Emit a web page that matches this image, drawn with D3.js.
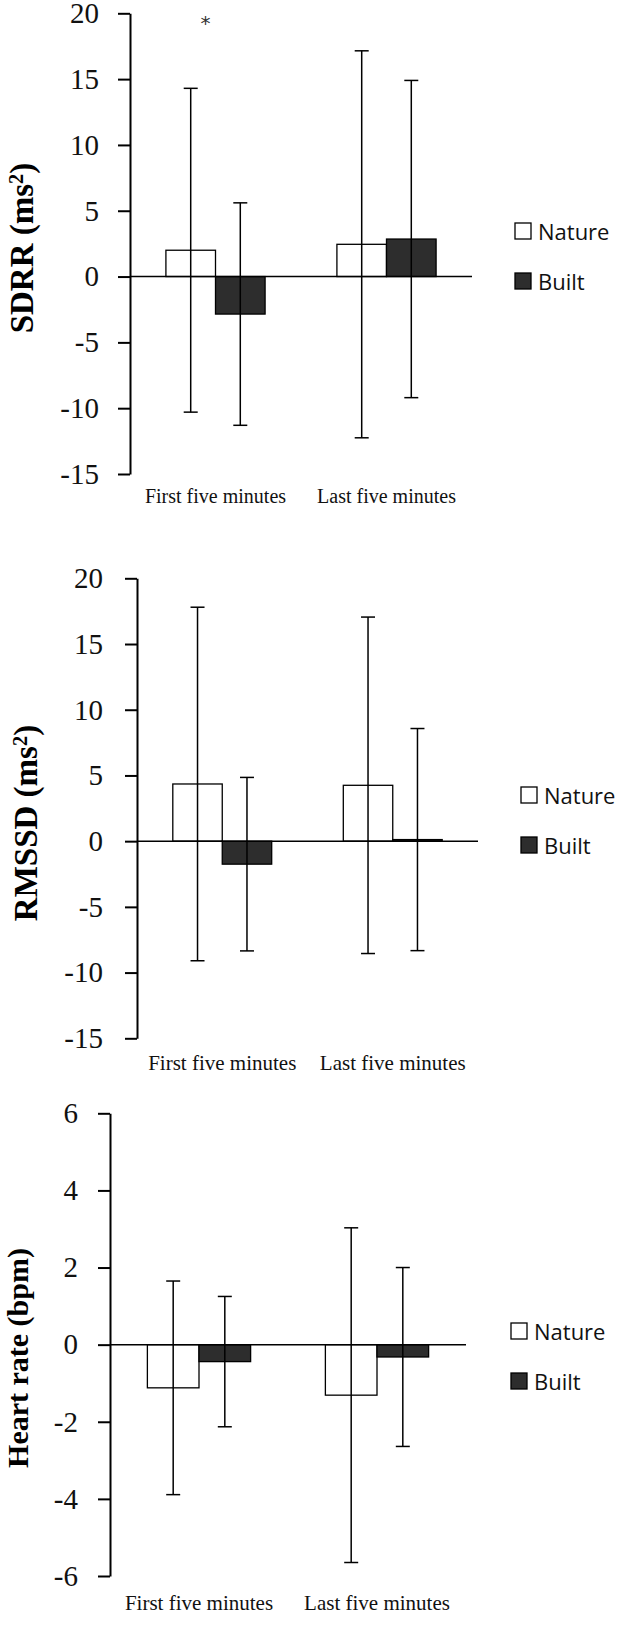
<!DOCTYPE html>
<html>
<head>
<meta charset="utf-8">
<script src="https://cdn.jsdelivr.net/npm/d3@7"></script>
<style>
  body { margin: 0; background: #fff; }
  svg { display: block; }
</style>
</head>
<body>
<svg id="chart" width="621" height="1625"></svg>
<script>
// categories and series
var categories = ["First five minutes", "Last five minutes"];
var seriesNames = ["Nature", "Built"];

// SDRR (ms2) - means and SD (error bars)
var sdrrNature = [2.0, 2.45];
var sdrrNatureSd = [12.3, 14.7];
var sdrrBuilt = [-2.85, 2.85];
var sdrrBuiltSd = [8.45, 12.05];
var sdrrTicks = [20, 15, 10, 5, 0, -5, -10, -15];

// RMSSD (ms2)
var rmssdNature = [4.35, 4.25];
var rmssdNatureSd = [13.45, 12.8];
var rmssdBuilt = [-1.75, 0.12];
var rmssdBuiltSd = [6.6, 8.45];
var rmssdTicks = [20, 15, 10, 5, 0, -5, -10, -15];

// Heart rate (bpm)
var hrNature = [-1.12, -1.31];
var hrNatureSd = [2.77, 4.34];
var hrBuilt = [-0.44, -0.32];
var hrBuiltSd = [1.69, 2.32];
var hrTicks = [6, 4, 2, 0, -2, -4, -6];

// significance mark (first five minutes, SDRR)
var sigCategory = "First five minutes";
var sigValue = 19.3;

var svg = d3.select("#chart");
svg.append("rect").attr("width", 621).attr("height", 1625).attr("fill", "#fff");

var colors = { "Nature": "#ffffff", "Built": "#2d2d2d" };

function drawPanel(p) {
    var g = svg.append("g");

    var y = d3.scaleLinear()
        .domain([p.ticks[p.ticks.length - 1], p.ticks[0]])
        .range([p.bottom, p.top]);

    var x0 = d3.scaleBand()
        .domain(categories)
        .range([p.left, p.right])
        .paddingInner(0.42)
        .paddingOuter(0.21);

    var x1 = d3.scaleBand()
        .domain(seriesNames)
        .range([0, x0.bandwidth()]);

    // rows: one per category x series
    var rows = [];
    categories.forEach(function(c, i) {
        rows.push({ cat: c, s: "Nature", v: p.nature[i], sd: p.natureSd[i] });
        rows.push({ cat: c, s: "Built", v: p.built[i], sd: p.builtSd[i] });
    });

    // bars
    g.selectAll("rect.bar")
        .data(rows)
        .enter()
        .append("rect")
        .attr("class", "bar")
        .attr("x", function(d) { return x0(d.cat) + x1(d.s); })
        .attr("y", function(d) { return Math.min(y(d.v), y(0)); })
        .attr("width", x1.bandwidth())
        .attr("height", function(d) { return Math.abs(y(d.v) - y(0)); })
        .attr("fill", function(d) { return colors[d.s]; })
        .attr("stroke", "#000")
        .attr("stroke-width", 1.3);

    // zero line
    g.append("line")
        .attr("x1", p.left).attr("x2", p.right)
        .attr("y1", y(0)).attr("y2", y(0))
        .attr("stroke", "#000")
        .attr("stroke-width", 1.5);

    // error bars
    var cap = 7;
    var eb = g.selectAll("g.err")
        .data(rows)
        .enter()
        .append("g")
        .attr("class", "err")
        .attr("stroke", "#000")
        .attr("stroke-width", 1.5);
    eb.append("line")
        .attr("x1", function(d) { return x0(d.cat) + x1(d.s) + x1.bandwidth() / 2; })
        .attr("x2", function(d) { return x0(d.cat) + x1(d.s) + x1.bandwidth() / 2; })
        .attr("y1", function(d) { return y(d.v + d.sd); })
        .attr("y2", function(d) { return y(d.v - d.sd); });
    [1, -1].forEach(function(sign) {
        eb.append("line")
            .attr("x1", function(d) { return x0(d.cat) + x1(d.s) + x1.bandwidth() / 2 - cap; })
            .attr("x2", function(d) { return x0(d.cat) + x1(d.s) + x1.bandwidth() / 2 + cap; })
            .attr("y1", function(d) { return y(d.v + sign * d.sd); })
            .attr("y2", function(d) { return y(d.v + sign * d.sd); });
    });

    // y axis
    var yAxis = d3.axisLeft(y)
        .tickValues(p.ticks)
        .tickSize(12)
        .tickSizeOuter(0)
        .tickPadding(p.tickPad)
        .tickFormat(function(d) { return String(d); });

    var ax = g.append("g")
        .attr("transform", "translate(" + p.left + ",0)")
        .call(yAxis);
    ax.select(".domain").attr("stroke", "#000").attr("stroke-width", 2);
    ax.selectAll(".tick line").attr("stroke", "#000").attr("stroke-width", 2);
    ax.selectAll(".tick text")
        .attr("fill", "#111")
        .style("font-family", "'Liberation Serif', 'Times New Roman', serif")
        .style("font-size", p.tickSize + "px");

    // category labels
    g.selectAll("text.cat")
        .data(categories)
        .enter()
        .append("text")
        .attr("class", "cat")
        .attr("x", function(d) { return x0(d) + x0.bandwidth() / 2; })
        .attr("y", p.labelY)
        .attr("text-anchor", "middle")
        .attr("dominant-baseline", "central")
        .attr("fill", "#111")
        .style("font-family", "'Liberation Serif', 'Times New Roman', serif")
        .style("font-size", p.catSize + "px")
        .text(function(d) { return d; });

    // y title
    var t = g.append("text")
        .attr("transform", "translate(" + p.titleX + "," + p.titleY + ") rotate(-90)")
        .attr("text-anchor", "middle")
        .attr("dy", "0.35em")
        .attr("fill", "#000")
        .style("font-family", "'Liberation Serif', 'Times New Roman', serif")
        .style("font-weight", "bold")
        .style("font-size", p.titleSize + "px");
    t.append("tspan").text(p.title);
    if (p.sup) {
        t.append("tspan").attr("dy", "-0.45em").style("font-size", "0.62em").text(p.sup);
        t.append("tspan").attr("dy", "0.28em").text(")");
    }

    // legend
    var lg = g.selectAll("g.legend")
        .data(seriesNames)
        .enter()
        .append("g")
        .attr("class", "legend")
        .attr("transform", function(d, i) { return "translate(" + p.legendX + "," + p.legendY[i] + ")"; });
    lg.append("rect")
        .attr("width", 16).attr("height", 16)
        .attr("fill", function(d) { return colors[d]; })
        .attr("stroke", "#000")
        .attr("stroke-width", 1.3);
    lg.append("text")
        .attr("x", 23).attr("y", 8)
        .attr("dominant-baseline", "central")
        .attr("fill", "#111")
        .style("font-family", "'Open Sans', sans-serif")
        .style("font-size", "22px")
        .text(function(d) { return d; });

    return { x0: x0, x1: x1, y: y, g: g };
}

var p1 = drawPanel({
    nature: sdrrNature, natureSd: sdrrNatureSd, built: sdrrBuilt, builtSd: sdrrBuiltSd,
    ticks: sdrrTicks, top: 13.3, bottom: 474, left: 130, right: 472,
    tickPad: 19, tickSize: 29, catSize: 20, labelY: 496,
    title: "SDRR (ms", sup: "2", titleX: 21, titleY: 248, titleSize: 33,
    legendX: 515, legendY: [223, 273]
});

// asterisk
p1.g.append("text")
    .attr("x", p1.x0(sigCategory) + p1.x1("Nature") + p1.x1.bandwidth() * 0.8)
    .attr("y", p1.y(sigValue))
    .attr("text-anchor", "middle")
    .attr("dominant-baseline", "central")
    .attr("fill", "#333")
    .style("font-family", "'DejaVu Sans', sans-serif")
    .style("font-size", "20px")
    .text("*");

drawPanel({
    nature: rmssdNature, natureSd: rmssdNatureSd, built: rmssdBuilt, builtSd: rmssdBuiltSd,
    ticks: rmssdTicks, top: 578.3, bottom: 1038.3, left: 137, right: 478,
    tickPad: 22, tickSize: 29, catSize: 21, labelY: 1063,
    title: "RMSSD (ms", sup: "2", titleX: 25, titleY: 823, titleSize: 33,
    legendX: 521, legendY: [787, 837]
});

drawPanel({
    nature: hrNature, natureSd: hrNatureSd, built: hrBuilt, builtSd: hrBuiltSd,
    ticks: hrTicks, top: 1113.3, bottom: 1576, left: 110, right: 466,
    tickPad: 20, tickSize: 29, catSize: 21, labelY: 1603,
    title: "Heart rate (bpm)", sup: null, titleX: 17, titleY: 1358, titleSize: 30,
    legendX: 511, legendY: [1323, 1373]
});
</script>
</body>
</html>
